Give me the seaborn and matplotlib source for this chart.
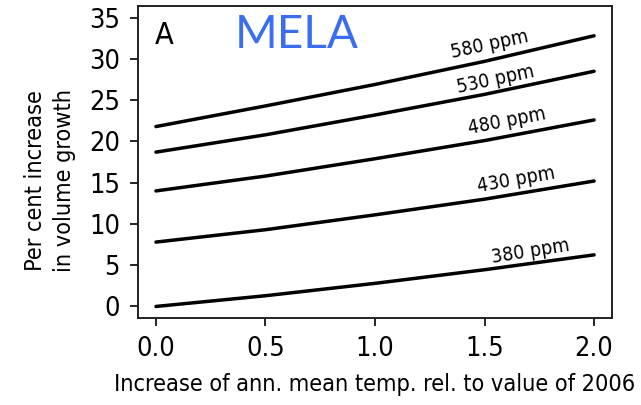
import numpy as np
import pandas as pd
import matplotlib
matplotlib.use("Agg")
import matplotlib.pyplot as plt
import seaborn as sns

# ------------------------------------------------------------
# Daten
# ------------------------------------------------------------
temp_increase = [0.0, 0.5, 1.0, 1.5, 2.0]
growth_580 = [21.8, 24.3, 26.9, 29.7, 32.8]
growth_530 = [18.7, 20.8, 23.2, 25.7, 28.5]
growth_480 = [14.0, 15.8, 17.9, 20.1, 22.6]
growth_430 = [7.8, 9.3, 11.1, 13.0, 15.2]
growth_380 = [0.0, 1.3, 2.8, 4.45, 6.25]

co2_levels = ["580 ppm", "530 ppm", "480 ppm", "430 ppm", "380 ppm"]
series = [growth_580, growth_530, growth_480, growth_430, growth_380]

# Label-Positionen (Daten-Koordinaten) und Drehwinkel
label_x = [1.525, 1.55, 1.60, 1.645, 1.71]
label_y = [31.7, 27.5, 22.4, 15.3, 6.7]
label_rot = [12, 12, 11, 10, 9]

df = pd.DataFrame({
    "temp": np.tile(temp_increase, len(series)),
    "growth": np.concatenate(series),
    "co2": np.repeat(co2_levels, len(temp_increase)),
})

# ------------------------------------------------------------
# Plot
# ------------------------------------------------------------
sns.set_theme(style="ticks")
plt.rcParams["font.family"] = ["DejaVu Sans"]
plt.rcParams["font.stretch"] = "condensed"
plt.rcParams["text.color"] = "black"
plt.rcParams["axes.labelcolor"] = "black"

fig = plt.figure(figsize=(6.41, 4.05), dpi=100)
ax = fig.add_axes([0.2153, 0.2148, 0.7395, 0.7702])

sns.lineplot(data=df, x="temp", y="growth", hue="co2",
             palette=["black"] * len(co2_levels), legend=False,
             linewidth=2.5, ax=ax)

for txt, lx, ly, rot in zip(co2_levels, label_x, label_y, label_rot):
    ax.text(lx, ly, txt, rotation=rot, ha="center", va="center",
            fontsize=14, color="black", rotation_mode="anchor",
            fontstretch="condensed")

ax.set_xlim(-0.082, 2.082)
ax.set_ylim(-1.4, 36.4)
ax.set_xticks([0.0, 0.5, 1.0, 1.5, 2.0])
ax.set_xticklabels(["0.0", "0.5", "1.0", "1.5", "2.0"])
ax.set_yticks(range(0, 36, 5))

for side in ["top", "right", "left", "bottom"]:
    ax.spines[side].set_visible(True)
    ax.spines[side].set_color("#222222")
    ax.spines[side].set_linewidth(1.4)

ax.tick_params(axis="both", direction="out", length=6, width=1.2,
               labelsize=19.5, colors="black")
ax.tick_params(axis="y", pad=7)
ax.tick_params(axis="x", pad=7)

ax.set_xlabel("Increase of ann. mean temp. rel. to value of 2006",
              fontsize=16.8, labelpad=8)
ax.set_ylabel("Per cent increase\nin volume growth", fontsize=16.8,
              linespacing=1.35)
ax.yaxis.set_label_coords(-0.13, 0.442)

ax.text(0.035, 0.907, "A", transform=ax.transAxes, fontsize=22,
        ha="left", va="center")
ax.text(0.335, 0.908, "MELA", transform=ax.transAxes, fontsize=33,
        ha="center", va="center", color="#3a6df0",
        family=["Lato", "DejaVu Sans"], fontstretch="normal")

fig.savefig("out.png", dpi=100)
plt.close(fig)
